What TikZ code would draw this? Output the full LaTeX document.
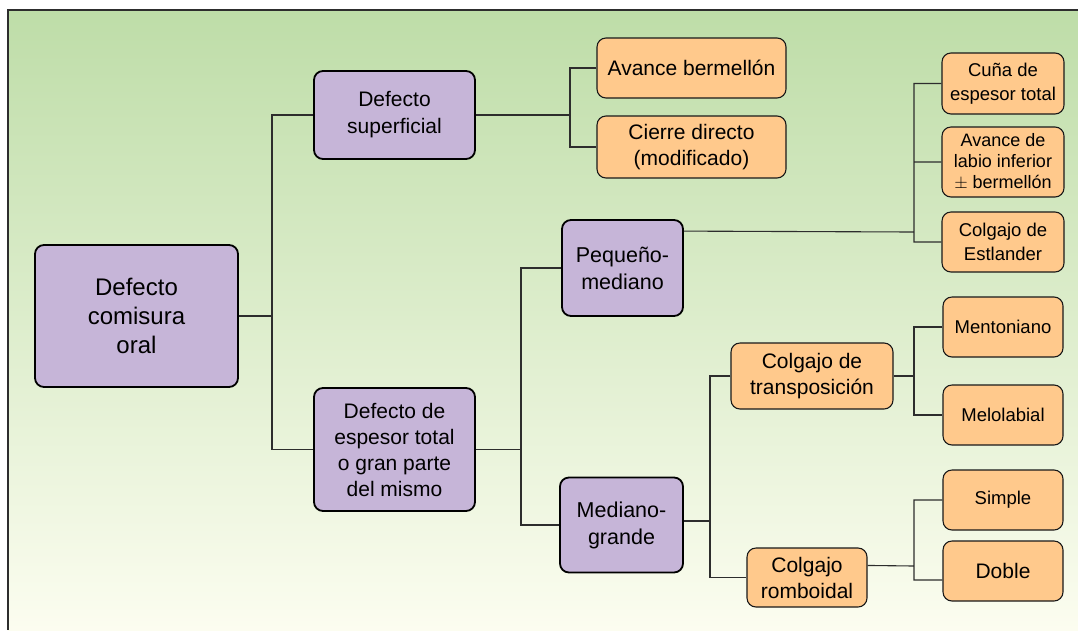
\documentclass[tikz,border=0pt]{standalone}
\usepackage{fontspec}
\setmainfont{Liberation Sans}
\usepackage{tikz}
\usetikzlibrary{calc,shapes}

\definecolor{bgtop}{RGB}{190,221,168}
\definecolor{bgbot}{RGB}{252,253,240}
\definecolor{lila}{RGB}{198,181,216}
\definecolor{naranja}{RGB}{255,201,140}
\definecolor{linea}{RGB}{45,45,45}

\tikzset{
  morado/.style={draw=black,line width=1.8pt,fill=lila,rounded corners=9pt,align=center,inner sep=2pt},
  salmon/.style={draw=black!90,line width=1.1pt,fill=naranja,rounded corners=9pt,align=center,inner sep=2pt},
  rama/.style={draw=linea,line width=1.1pt}
}

\begin{document}
\begin{tikzpicture}[x=1pt,y=-1pt]
            \useasboundingbox (0,0) rectangle (1078,630);
            \shade[top color=bgtop,bottom color=bgbot] (8,10) rectangle (1078,630);
            \draw[linea,line width=1.3pt] (8,630) -- (8,10) -- (1078,10);

            \node[morado,minimum width=203pt,minimum height=142pt,font=\fontsize{24}{29}\selectfont] (raiz) at (136.5,316) {Defecto\\comisura\\oral};
            \node[morado,minimum width=161pt,minimum height=88pt,font=\fontsize{21}{27}\selectfont] (sup) at (394.5,115) {Defecto\\superficial};
            \node[morado,minimum width=161pt,minimum height=123pt,font=\fontsize{21}{26}\selectfont] (esp) at (394.5,449.5) {Defecto de\\espesor total\\o gran parte\\del mismo};
            \node[morado,minimum width=121pt,minimum height=96pt,font=\fontsize{21.5}{27}\selectfont] (peq) at (622.5,268) {Pequeño-\\mediano};
            \node[morado,minimum width=123pt,minimum height=95pt,font=\fontsize{21.5}{27}\selectfont] (med) at (621.5,525) {Mediano-\\grande};

            \node[salmon,minimum width=189pt,minimum height=60pt,font=\fontsize{21}{26}\selectfont] (avb) at (691.5,68) {Avance bermellón};
            \node[salmon,minimum width=189pt,minimum height=62pt,font=\fontsize{21}{26}\selectfont] (cie) at (691.5,147) {Cierre directo\\(modificado)};
            \node[salmon,minimum width=162pt,minimum height=66pt,font=\fontsize{21}{26}\selectfont] (trans) at (812,376) {Colgajo de\\transposición};
            \node[salmon,minimum width=120pt,minimum height=59pt,font=\fontsize{21}{26}\selectfont] (romb) at (807,577.5) {Colgajo\\romboidal};

            \node[salmon,minimum width=122pt,minimum height=61pt,font=\fontsize{18.5}{24}\selectfont] (cuna) at (1003,83.5) {Cuña de\\espesor total};
            \node[salmon,minimum width=122pt,minimum height=70pt,font=\fontsize{18}{21}\selectfont] (avl) at (1003,162) {Avance de\\labio inferior\\$\pm$ bermellón};
            \node[salmon,minimum width=122pt,minimum height=60pt,font=\fontsize{18.5}{24}\selectfont] (estl) at (1003,242) {Colgajo de\\Estlander};
            \node[salmon,minimum width=120pt,minimum height=60pt,font=\fontsize{18.5}{23}\selectfont] (ment) at (1003,327) {Mentoniano};
            \node[salmon,minimum width=120pt,minimum height=60pt,font=\fontsize{18.5}{23}\selectfont] (melo) at (1003,415) {Melolabial};
            \node[salmon,minimum width=120pt,minimum height=60pt,font=\fontsize{18.5}{23}\selectfont] (simp) at (1003,500) {Simple};
            \node[salmon,minimum width=120pt,minimum height=60pt,font=\fontsize{21}{26}\selectfont] (dob) at (1003,571) {Doble};

            \coordinate (j1) at (272,316);
            \coordinate (j2) at (570,115);
            \coordinate (j3) at (521,449.5);
            \coordinate (j4) at (914,232);
            \coordinate (j5) at (710,521);
            \coordinate (j6) at (914,376);
            \coordinate (j7) at (914,566);

            \draw[rama] (raiz.east) -- (j1) (sup.west) -| (j1) |- (esp.west);
            \draw[rama] (sup.east) -- (j2) (avb.west) -| (j2) |- (cie.west);
            \draw[rama] (esp.east) -- (j3) (peq.west) -| (j3) |- (med.west);
            \draw[rama] ([yshift=-12pt]peq.north east) -- (j4) (cuna.west) -| (j4) |- (estl.west) (avl.west) -- (avl.west -| j4);
            \draw[rama] ([yshift=4pt]med.east) -- (j5) (trans.west) -| (j5) |- (romb.west);
            \draw[rama] (trans.east) -- (j6) (ment.west) -| (j6) |- (melo.west);
            \draw[rama] ([yshift=-18pt]romb.north east) -- (j7) (simp.west) -| (j7) |- ([yshift=-9pt]dob.west);
          \end{tikzpicture}
\end{document}
